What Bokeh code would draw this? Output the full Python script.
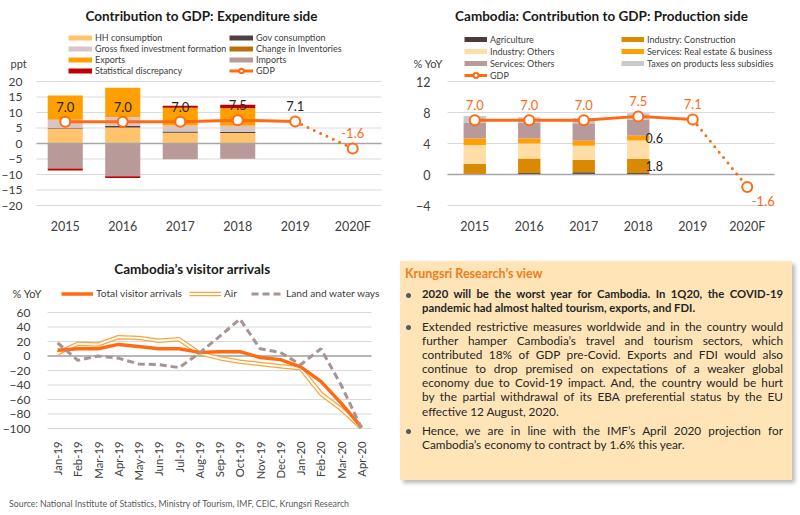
import numpy as np
from bokeh.plotting import figure
from bokeh.models import (Range1d, Legend, LegendItem, Label, FixedTicker,
                          ColumnDataSource, Div)
from bokeh.layouts import row, column
from bokeh.embed import file_html
from bokeh.resources import INLINE
from bokeh.core.properties import value

FONT = "Lato"
ORANGE = "#FF6A13"
TXT = "#404040"

# ---------------- data ----------------
years = ["2015", "2016", "2017", "2018", "2019", "2020F"]
gdp_growth = [7.0, 7.0, 7.0, 7.5, 7.1, -1.6]

# Expenditure side contributions (ppt), 2015-2018
exp_hh_consumption = [4.8, 5.2, 3.5, 3.4]
exp_gov_consumption = [0.3, 0.5, 0.4, 0.4]
exp_inventories = [0.0, 0.0, 0.0, 0.0]
exp_gfcf = [2.6, 2.8, 1.9, 1.9]
exp_exports = [7.8, 9.5, 5.7, 5.7]
exp_imports = [-8.1, -10.6, -5.1, -4.9]
exp_stat_disc = [-0.6, -0.5, 0.7, 1.1]
exp_yticks = [-20, -15, -10, -5, 0, 5, 10, 15, 20]

# Production side contributions (% YoY), 2015-2018
prod_agriculture = [0.0, 0.2, 0.3, 0.2]
prod_construction = [1.4, 1.85, 1.6, 1.8]
prod_industry_others = [2.4, 1.95, 1.8, 2.4]
prod_real_estate = [0.85, 0.65, 0.65, 0.6]
prod_services_others = [2.05, 2.05, 2.25, 2.1]
prod_taxes = [0.85, 0.7, 0.65, 0.8]
prod_yticks = [-4, 0, 4, 8, 12]

# Visitor arrivals (% YoY)
months = ["Jan-19", "Feb-19", "Mar-19", "Apr-19", "May-19", "Jun-19", "Jul-19",
          "Aug-19", "Sep-19", "Oct-19", "Nov-19", "Dec-19", "Jan-20", "Feb-20",
          "Mar-20", "Apr-20"]
total_arrivals = [8, 10, 10, 16, 13, 10, 10, 5, 6, 6, -2, -5, -15, -35, -65, -98]
air_arrivals = [4, 17, 16, 26, 25, 21, 23, 4, -3, -8, -11, -14, -17, -52, -73, -99]
land_water_arrivals = [18, -6, 0, -3, -11, -12, -16, 4, 27, 51, 10, 5, -12, 10, -40, -99]
arr_yticks = [-100, -80, -60, -40, -20, 0, 20, 40, 60]


def stack(series_list):
    n = len(series_list[0])
    pos = [0.0] * n
    neg = [0.0] * n
    out = []
    for vals in series_list:
        b, t = [], []
        for i, v in enumerate(vals):
            if v >= 0:
                b.append(pos[i]); t.append(pos[i] + v); pos[i] += v
            else:
                t.append(neg[i]); b.append(neg[i] + v); neg[i] += v
        out.append((b, t))
    return out


def base_fig(W, H, fl, fr, ft, fb, x0, x1, ticks, xticks, xlabels, ylab_size, xlab_size,
             ystand, xstand):
    """Frame covers the whole figure; the plotting area [x0,x1]x[y0,y1] maps to
    the pixel box (fl..fr, ft..fb)."""
    y0, y1 = min(ticks), max(ticks)
    sx = (fr - fl) / (x1 - x0)
    sy = (fb - ft) / (y1 - y0)
    xr = Range1d(x0 - fl / sx, x1 + (W - fr) / sx)
    yr = Range1d(y0 - (H - fb) / sy, y1 + ft / sy)
    p = figure(width=W, height=H, output_backend="svg", toolbar_location=None,
               x_range=xr, y_range=yr, title=None, min_border=0)
    p.outline_line_color = None
    p.background_fill_color = "white"
    p.border_fill_color = "white"
    p.xgrid.grid_line_color = None
    p.ygrid.grid_line_color = None
    for ax in (p.xaxis[0], p.yaxis[0]):
        ax.axis_line_color = None
        ax.major_tick_line_color = None
        ax.minor_tick_line_color = None
        ax.major_label_text_font = FONT
        ax.major_label_text_color = TXT
    p.yaxis.fixed_location = x0
    p.xaxis.fixed_location = y0
    p.yaxis.ticker = FixedTicker(ticks=ticks)
    p.xaxis.ticker = FixedTicker(ticks=xticks)
    p.xaxis.major_label_overrides = {i: s for i, s in zip(xticks, xlabels)}
    p.yaxis.major_label_text_font_size = ylab_size
    p.xaxis.major_label_text_font_size = xlab_size
    p.yaxis.major_label_standoff = ystand
    p.xaxis.major_label_standoff = xstand
    n = len(ticks)
    p.segment(x0=[x0] * n, x1=[x1] * n, y0=ticks, y1=ticks, line_color="#D9D9D9", line_width=1)
    return p


def zero_line(p, x0, x1):
    p.segment(x0=[x0], x1=[x1], y0=[0], y1=[0], line_color="#A6A6A6", line_width=1.3)


def legend(items, loc, gw, gh, spacing, orientation="vertical", size="9px"):
    return Legend(items=items, location=loc, orientation=orientation,
                  glyph_width=gw, glyph_height=gh, label_height=gh, spacing=spacing,
                  padding=0, margin=0, label_standoff=3,
                  label_text_font=FONT, label_text_font_size=size,
                  label_text_color=TXT, border_line_color=None,
                  background_fill_alpha=0)


def swatch(p, color):
    # legend-only line renderer (no visible data)
    return p.line(x=np.array([np.nan]), y=np.array([np.nan]), line_color=color, line_width=5)


def title_label(p, x, y, text):
    p.add_layout(Label(x=x, y=y, x_units="screen", y_units="screen", text=text,
                       text_align="center", text_baseline="middle", text_font=FONT,
                       text_font_style="bold", text_font_size="13.5px", text_color="#1a1a1a"))


def unit_label(p, x, y, text):
    p.add_layout(Label(x=x, y=y, x_units="screen", y_units="screen", text=text,
                       text_align="left", text_baseline="middle", text_font=FONT,
                       text_font_size="11px", text_color=TXT))


xs6 = list(range(len(years)))
xs4 = list(range(len(exp_hh_consumption)))
X0, X1 = -0.5, len(years) - 0.5

# ---------------- Chart 1: expenditure side ----------------
p1 = base_fig(400, 250, 36, 381, 81, 205, X0, X1, exp_yticks, xs6, years,
              "12px", "12.5px", 8, 7)

exp_series = [
    ("HH consumption", exp_hh_consumption, "#FFC36B"),
    ("Gov consumption", exp_gov_consumption, "#504040"),
    ("Change in Inventories", exp_inventories, "#B8700A"),
    ("Gross fixed investment formation", exp_gfcf, "#D9C5C5"),
    ("Exports", exp_exports, "#FFA000"),
    ("Imports", exp_imports, "#B89A9A"),
    ("Statistical discrepancy", exp_stat_disc, "#C00000"),
]
stk = stack([s[1] for s in exp_series])
sw1 = {}
for (name, vals, col), (b, t) in zip(exp_series, stk):
    p1.vbar(x=xs4, width=0.61, bottom=b, top=t, fill_color=col, line_color=None)
    sw1[name] = swatch(p1, col)
zero_line(p1, X0, X1)

g1_line = p1.line(xs6[:5], gdp_growth[:5], line_color=ORANGE, line_width=3)
p1.line(xs6[4:], gdp_growth[4:], line_color=ORANGE, line_width=3, line_dash="0 7", line_cap="round")
g1_mk = p1.scatter(xs6, gdp_growth, size=10, fill_color="white", line_color=ORANGE, line_width=2)
lab1 = ColumnDataSource(dict(x=xs6, y=gdp_growth, t=[f"{v:.1f}" for v in gdp_growth],
                             c=["#262626"] * 5 + [ORANGE]))
p1.text(x="x", y="y", text="t", source=lab1, text_color="c", y_offset=-15,
        text_align="center", text_baseline="middle", text_font=value(FONT),
        text_font_size="13px")

leg1a = legend([LegendItem(label=n, renderers=[sw1[n]]) for n in
                ["HH consumption", "Gross fixed investment formation", "Exports",
                 "Statistical discrepancy"]], (68, 174), 24, 11, 0)
leg1b = legend([LegendItem(label=n, renderers=[sw1[n]]) for n in
                ["Gov consumption", "Change in Inventories", "Imports"]] +
               [LegendItem(label="GDP", renderers=[g1_line, g1_mk])], (229, 174), 24, 11, 0)
p1.add_layout(leg1a)
p1.add_layout(leg1b)
title_label(p1, 201, 235, "Contribution to GDP: Expenditure side")
unit_label(p1, 10, 187, "ppt")

# ---------------- Chart 2: production side ----------------
p2 = base_fig(398, 250, 47, 374, 81, 205, X0, X1, prod_yticks, xs6, years,
              "12.5px", "12.5px", 11, 7)

prod_series = [
    ("Agriculture", prod_agriculture, "#4D3B3B"),
    ("Industry: Construction", prod_construction, "#DA8A00"),
    ("Industry: Others", prod_industry_others, "#FFDDA6"),
    ("Services: Real estate & business", prod_real_estate, "#FFA000"),
    ("Services: Others", prod_services_others, "#B89A9A"),
    ("Taxes on products less subsidies", prod_taxes, "#C9C9C9"),
]
stk2 = stack([s[1] for s in prod_series])
sw2 = {}
for (name, vals, col), (b, t) in zip(prod_series, stk2):
    p2.vbar(x=xs4, width=0.41, bottom=b, top=t, fill_color=col, line_color=None)
    sw2[name] = swatch(p2, col)
zero_line(p2, X0, X1)

# value labels for 2018 construction and real estate
b_c, t_c = stk2[1]
b_r, t_r = stk2[3]
lab2b = ColumnDataSource(dict(x=[3, 3], y=[(b_c[3] + t_c[3]) / 2, (b_r[3] + t_r[3]) / 2],
                              t=[f"{prod_construction[3]:.1f}", f"{prod_real_estate[3]:.1f}"]))
p2.text(x="x", y="y", text="t", source=lab2b, text_color="#262626", x_offset=16,
        text_align="center", text_baseline="middle", text_font=value(FONT),
        text_font_size="12.5px")

g2_line = p2.line(xs6[:5], gdp_growth[:5], line_color=ORANGE, line_width=3)
p2.line(xs6[4:], gdp_growth[4:], line_color=ORANGE, line_width=3, line_dash="0 7", line_cap="round")
g2_mk = p2.scatter(xs6, gdp_growth, size=10, fill_color="white", line_color=ORANGE, line_width=2)
lab2 = ColumnDataSource(dict(x=xs6, y=gdp_growth, t=[f"{v:.1f}" for v in gdp_growth],
                             xo=[0] * 5 + [16], yo=[-15] * 5 + [14]))
p2.text(x="x", y="y", text="t", source=lab2, text_color=ORANGE, x_offset="xo", y_offset="yo",
        text_align="center", text_baseline="middle", text_font=value(FONT),
        text_font_size="13px")

leg2a = legend([LegendItem(label=n, renderers=[sw2[n]]) for n in
                ["Agriculture", "Industry: Others", "Services: Others"]] +
               [LegendItem(label="GDP", renderers=[g2_line, g2_mk])], (64, 169), 23, 12, 0)
leg2b = legend([LegendItem(label=n, renderers=[sw2[n]]) for n in
                ["Industry: Construction", "Services: Real estate & business",
                 "Taxes on products less subsidies"]], (221, 181), 23, 12, 0)
p2.add_layout(leg2a)
p2.add_layout(leg2b)
title_label(p2, 201, 235, "Cambodia: Contribution to GDP: Production side")
unit_label(p2, 13, 187, "% YoY")

# ---------------- Chart 3: visitor arrivals ----------------
xs16 = list(range(len(months)))
M0, M1 = -0.5, len(months) - 0.5
p3 = base_fig(395, 240, 47, 371, 62, 178, M0, M1, arr_yticks, xs16, months,
              "12px", "11.3px", 11, 7)
p3.xaxis.major_label_orientation = np.pi / 2
zero_line(p3, M0, M1)

air_o = p3.line(xs16, air_arrivals, line_color="#FBA33C", line_width=4.5)
air_i = p3.line(xs16, air_arrivals, line_color="white", line_width=2)
tot = p3.line(xs16, total_arrivals, line_color=ORANGE, line_width=3.5)
land = p3.line(xs16, land_water_arrivals, line_color="#A69494", line_width=3, line_dash="7 4")

leg3 = legend([LegendItem(label="Total visitor arrivals", renderers=[tot]),
               LegendItem(label="Air", renderers=[air_o, air_i]),
               LegendItem(label="Land and water ways", renderers=[land])],
              (61, 191), 32, 11, 7, orientation="horizontal", size="10.2px")
p3.add_layout(leg3)
title_label(p3, 192, 222, "Cambodia’s visitor arrivals")
unit_label(p3, 12, 197, "% YoY")

# ---------------- Text box ----------------
para1 = ["2020 will be the worst year for Cambodia. In 1Q20, the COVID-19",
         "pandemic had almost halted tourism, exports, and FDI."]
para2 = ["Extended restrictive measures worldwide and in the country would",
         "further hamper Cambodia’s travel and tourism sectors, which",
         "contributed 18% of GDP pre-Covid. Exports and FDI would also",
         "continue to drop premised on expectations of a weaker global",
         "economy due to Covid-19 impact. And, the country would be hurt",
         "by the partial withdrawal of its EBA preferential status by the EU",
         "effective 12 August, 2020."]
para3 = ["Hence, we are in line with the IMF’s April 2020 projection for",
         "Cambodia’s economy to contract by 1.6% this year."]


def para_html(lines, top, lh, bold=False):
    out = []
    for i, ln in enumerate(lines):
        last = (i == len(lines) - 1)
        out.append(f'<div style="text-align:justify;text-align-last:{"left" if last else "justify"};'
                   f'white-space:nowrap;height:{lh}px;line-height:{lh}px;">{ln}</div>')
    fw = "bold" if bold else "normal"
    fs = "11.3px" if bold else "11.8px"
    return (f'<div style="position:absolute;left:22px;top:{top}px;width:361px;'
            f'font-weight:{fw};font-size:{fs};">' + "".join(out) + '</div>')


def dot(cy):
    return (f'<div style="position:absolute;left:6px;top:{cy - 2.5}px;width:5px;height:5px;'
            f'border-radius:50%;background:#595959;"></div>')


box_html = (
    '<div style="position:relative;width:403px;height:240px;">'
    '<div style="position:absolute;left:5px;top:11px;width:392px;height:219px;'
    'background:#FEE4B6;box-shadow:3px 3px 4px rgba(0,0,0,0.28);font-family:Lato;'
    'color:#262626;">'
    '<div style="position:absolute;left:5px;top:4px;font-size:12.5px;font-weight:bold;'
    'color:#F07D1A;line-height:18px;white-space:nowrap;">Krungsri Research’s view</div>'
    + dot(34) + para_html(para1, 26.2, 13.7, bold=True)
    + dot(66) + para_html(para2, 58.6, 14.17)
    + dot(170) + para_html(para3, 162.7, 14.7)
    + '</div></div>'
)
box = Div(text=box_html, width=403, height=240, margin=0)

src = Div(text='<div style="position:relative;width:798px;height:23px;">'
               '<div style="position:absolute;left:9px;top:7.5px;font-family:Lato;font-size:8.8px;'
               'line-height:11px;color:#595959;white-space:nowrap;">Source: National Institute '
               'of Statistics, Ministry of Tourism, IMF, CEIC, Krungsri Research</div></div>',
          width=798, height=23, margin=0)

layout = column(row(p1, p2), row(p3, box), src)
open("out.html", "w").write(file_html(layout, INLINE))
